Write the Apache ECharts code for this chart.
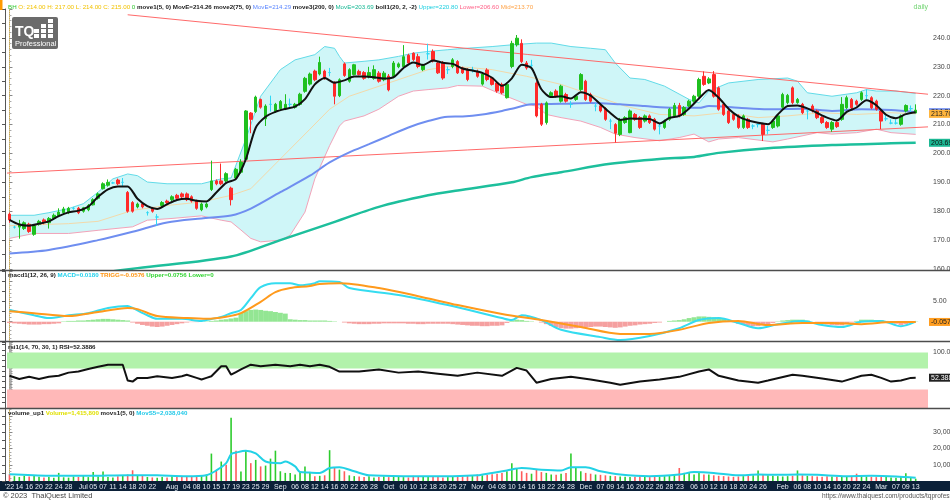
<!DOCTYPE html>
<html>
<head>
<meta charset="utf-8">
<title>BH daily</title>
<script src="https://cdn.jsdelivr.net/npm/echarts@6/dist/echarts.min.js"></script>
<style>
  html, body { margin: 0; padding: 0; background: #fff; }
  #chart { width: 950px; height: 500px; }
</style>
</head>
<body>
<div id="chart"></div>
<script>
// trading days (SET), Jun 2022 - Mar 2023
const daysJun = [10, 13, 14, 15, 16, 17, 20, 21, 22, 23, 24, 27, 28, 29, 30];
const daysJul = [1, 4, 5, 6, 7, 8, 11, 12, 14, 15, 18, 19, 20, 21, 22, 25, 26, 27];
const daysAug = [1, 2, 3, 4, 5, 8, 9, 10, 11, 15, 16, 17, 18, 19, 22, 23, 24, 25, 26, 29, 30, 31];
const daysSep = [1, 2, 5, 6, 7, 8, 9, 12, 13, 14, 15, 16, 19, 20, 21, 22, 23, 26, 27, 28, 29, 30];
const daysOct = [3, 4, 5, 6, 7, 10, 11, 12, 17, 18, 19, 20, 21, 25, 26, 27, 28, 31];
const daysNov = [1, 2, 3, 4, 7, 8, 9, 10, 11, 14, 15, 16, 17, 18, 21, 22, 23, 24, 25, 28, 29, 30];
const daysDec = [1, 2, 6, 7, 8, 9, 13, 14, 15, 16, 19, 20, 21, 22, 23, 26, 27, 28, 29];
const daysJan = [3, 4, 5, 6, 9, 10, 11, 12, 13, 16, 17, 18, 19, 20, 23, 24, 25, 26, 27, 30, 31];
const daysFeb = [1, 2, 3, 6, 7, 8, 9, 10, 13, 14, 15, 16, 17, 20, 21, 22, 23, 24, 27, 28];
const daysMar = [1, 2, 3, 7, 8, 9, 10, 13];

// date axis labels: tag on first day of month, then these days
const monthTags = ["'22", 'Jul', 'Aug', 'Sep', 'Oct', 'Nov', 'Dec', "'23", 'Feb', 'Mar'];
const ticksJun = [14, 16, 20, 22, 24, 28];
const ticksJul = [5, 7, 11, 14, 18, 20, 22];
const ticksAug = [4, 8, 10, 15, 17, 19, 23, 25, 29];
const ticksSep = [6, 8, 12, 14, 16, 20, 22, 26, 28];
const ticksOct = [6, 10, 12, 18, 20, 25, 27];
const ticksNov = [4, 8, 10, 14, 16, 18, 22, 24, 28];
const ticksDec = [7, 9, 14, 16, 20, 22, 26, 28];
const ticksJan = [6, 10, 12, 16, 18, 20, 24, 26];
const ticksFeb = [6, 8, 10, 14, 16, 20, 22, 24];
const ticksMar = [7, 9, 13];

// daily candles [open, close, low, high]
const candles = [
  [179, 177, 176, 179.5], [174.5, 174.5, 174, 175], [174.5, 175.5, 170.5, 177], [174, 176, 173.5, 176.5],
  [175.5, 173, 172.5, 176], [172, 175, 171.5, 175.5], [175.5, 176.5, 175, 177], [177, 176, 175.5, 177.5],
  [176, 177.5, 174, 178], [177.5, 178.6, 177, 179.2], [178.5, 179.7, 178, 181], [179.5, 180.8, 179, 181.5],
  [179.5, 181, 179, 181.5], [181, 181, 180.5, 181.5], [181, 179.5, 179, 181.5], [180, 181.2, 179.5, 181.5],
  [180.5, 182, 180, 182.5], [182.2, 184, 182, 184.5], [184.5, 186, 184, 186.5], [187.8, 189.5, 187.5, 190],
  [189, 190, 188.5, 191], [189.8, 189.8, 189.5, 190.2], [190.8, 189.5, 189, 191.3], [190, 190, 188.5, 191.5],
  [186.5, 180, 179.5, 187], [183, 180, 179.5, 183.5], [181.5, 182.5, 181, 183], [182.5, 181.5, 181, 183],
  [179.5, 179.5, 178.5, 180], [181, 180, 179.5, 181.5], [178, 178, 175, 179], [182, 183, 181.5, 183.5],
  [183.5, 183, 182.5, 184], [184, 185, 183.5, 185.5], [185.5, 184.5, 184, 186], [186, 185, 184.5, 186.5],
  [186, 184, 183.5, 186.5], [185, 183.5, 183, 185.5], [183.5, 181, 180.5, 184], [180.5, 182.5, 180, 183],
  [181.5, 182.5, 181, 183], [187.5, 190.5, 187, 197.5], [190.5, 189.5, 189, 191], [190.5, 189.5, 189, 196.5],
  [190.5, 193, 190, 193.5], [188, 184, 182, 188.5], [191.5, 194.5, 191, 195],
  [193.5, 197, 193, 198], [198, 214.7, 197.5, 215], [214, 211.8, 207, 214.3], [214.5, 219.5, 214, 220],
  [218.7, 216, 215.5, 219], [212, 216.4, 209.5, 217], [217, 217, 214.5, 220], [214.5, 217, 214, 217.5],
  [215.5, 218, 215, 218.5], [215.5, 217, 215, 220.5], [217, 217, 215.5, 219], [216, 217, 215.5, 217.5],
  [217, 220.5, 216.5, 221], [221.5, 226, 221, 226.5], [224, 227.5, 223.5, 228], [228.5, 225.5, 225, 229],
  [227.5, 231.5, 227, 233.5], [228.5, 226, 225.5, 229], [228, 228, 226.7, 229.6], [224.5, 219.8, 217, 225],
  [220, 225.5, 219.5, 226], [231, 227, 226.5, 231.5], [225, 229, 224.5, 229.5], [227.3, 230.7, 227, 231],
  [228.4, 227.3, 227, 229], [228, 226, 225.5, 228.5], [226.5, 228, 226, 230], [226, 229, 225.5, 230.5],
  [227.8, 225, 224.5, 228.5], [225.5, 227.8, 225, 228.5], [226.8, 222, 221.5, 227.5], [226.7, 231.3, 226, 232],
  [230, 231, 229.5, 231.5], [230, 233.5, 229.5, 237.5], [234, 231.3, 231, 234.5], [234.7, 232.5, 232, 235],
  [233.5, 230.1, 229.5, 234.5], [229, 230.7, 228.5, 231], [234.5, 234.5, 232.5, 238], [235.3, 232, 231.5, 236],
  [231.3, 227.9, 227.5, 232], [231.3, 226.1, 225.5, 232], [229, 229, 227.5, 230.1], [230.1, 232.4, 229.5, 233],
  [231.8, 227.9, 227.5, 232.3], [229.6, 227.9, 227.5, 230], [229, 225.6, 225, 229.5],
  [229, 229, 228, 230], [228.4, 226.7, 226.2, 229], [224, 227.5, 223.5, 228], [228.9, 225.6, 225, 229.5],
  [226.1, 223.9, 223.5, 226.5], [224.4, 221.6, 221, 225], [223.9, 221, 220.5, 224.5], [219.3, 223.9, 219, 224.5],
  [230.1, 238.1, 229.5, 239], [237.6, 239.9, 237, 241], [238.1, 231.8, 231.3, 239.5], [231.3, 229.6, 229, 232],
  [230.5, 230.5, 229, 232.4], [224.4, 213, 212.5, 225], [217, 210.1, 209.5, 217.5], [210.7, 217.5, 210, 218],
  [220, 221, 219.5, 221.5], [221.6, 219.8, 219.3, 222.2], [218.1, 223.3, 217.6, 223.8], [220.4, 218.1, 217.6, 221],
  [217, 217, 215.8, 218.1], [218.7, 219.8, 218.2, 220.2], [222.1, 227.3, 221.6, 227.8], [225, 218.7, 218.2, 225.5],
  [220.4, 218.1, 217.6, 221], [216.4, 216.4, 214.6, 217.5], [216.5, 214.7, 214.2, 217], [215.5, 211.8, 211.3, 216],
  [211.2, 211.2, 208.4, 212], [210, 207, 203.8, 210.5], [206.6, 211.8, 206, 212.3], [210.7, 212.4, 210.2, 212.9],
  [207.2, 214.7, 207, 215.2], [213.5, 211.8, 211.3, 214], [212.4, 209, 208.5, 212.9], [211.2, 213, 210.7, 213.5],
  [213, 210.7, 210.2, 213.5], [211.8, 208.4, 207.9, 212.3], [209.5, 209.5, 206.6, 210.7], [209, 211.2, 208.5, 211.7],
  [211.8, 215.3, 211.3, 215.8], [213, 216.6, 212.5, 217.5], [216.6, 213, 212.5, 217.5], [213.5, 215.9, 213, 216.4],
  [216.4, 218.1, 216, 218.6], [218.1, 219.8, 217.6, 220.3], [219.8, 225.6, 219.3, 226.2],
  [226.7, 223.9, 223.4, 228.4], [224.4, 225.8, 224, 226.4], [227.3, 219.8, 219.3, 228.5], [222.7, 215.3, 214.8, 223.2],
  [217, 213.5, 213, 217.5], [214.7, 210.7, 210.2, 215.2], [213.5, 211.8, 211.3, 214], [213, 209, 208.5, 213.5],
  [209, 213, 208.5, 213.5], [211.8, 209, 208.5, 212.3], [209.5, 209.5, 208.4, 210.1], [210, 210, 209, 210.5],
  [210.1, 206.6, 204.3, 210.6], [208, 208, 206.6, 209.5], [209, 211.2, 208.5, 211.7], [209.5, 213, 209, 213.5],
  [216, 220.4, 215.5, 221], [217.6, 220.1, 217, 220.6], [222.7, 217.6, 217, 223.2], [217.6, 218.7, 217.2, 219.2],
  [217, 214.1, 213.6, 217.5], [214.7, 214.7, 211.8, 215.3], [216.4, 214.7, 214.2, 217], [214.7, 212.4, 211.9, 215.2],
  [212.4, 210.7, 210.2, 212.9], [210.7, 209, 208.5, 211.2], [208.4, 210.7, 207.5, 211.2], [210.7, 209.3, 208.8, 211.2],
  [211.8, 217, 211.3, 219.5], [215.8, 219.3, 215.3, 220], [218.7, 215.8, 215.3, 219.2], [218.1, 217, 216.5, 218.6],
  [218.7, 221, 218.2, 221.5], [220, 220, 218.7, 222.2], [219.3, 215.8, 215.3, 219.8], [218.1, 215.3, 214.8, 218.6],
  [214.7, 211.2, 208.4, 215.2], [212, 212, 211.2, 213.5], [210.5, 210.5, 210.1, 211.8], [210.5, 210.5, 210, 211.8],
  [210.1, 213, 209.6, 213.5], [214.7, 216.6, 214.2, 217], [215.5, 215.5, 214.1, 216.6], [214, 215, 214, 217]
];

// volume, millions of shares
const volume = [
  4.2, 3.0, 2.5, 3.2, 2.8, 3.5, 2.6, 2.2, 2.4, 2.0,
  5.0, 2.3, 2.1, 2.8, 2.5, 3.6, 2.4, 5.6, 2.8, 5.9,
  2.5, 2.2, 3.0, 3.5, 4.0, 6.6, 3.2, 3.6, 2.5, 2.2,
  2.0, 2.5, 2.2, 3.0, 2.4, 2.6, 2.8, 2.5, 3.0, 3.5,
  4.0, 16.9, 6.7, 12.0, 10.0, 39.0, 18.7, 5.9, 18.7, 11.0,
  13.0, 9.0, 9.5, 13.8, 18.7, 6.0, 5.0, 5.0, 4.0, 5.6,
  9.0, 5.6, 3.0, 3.2, 3.5, 19.0, 8.0, 7.0, 6.0, 3.5,
  3.0, 2.8, 2.5, 3.0, 2.2, 2.5, 2.8, 2.4, 2.6, 3.0,
  2.4, 2.2, 3.2, 2.6, 2.4, 2.8, 3.0, 2.6, 2.2, 2.4,
  2.6, 3.0, 2.8, 3.4, 3.2, 4.0, 3.5, 3.8, 4.2, 4.5,
  5.0, 6.0, 11.0, 8.0, 6.0, 5.0, 4.5, 7.0, 5.5, 5.0,
  4.0, 3.8, 4.5, 5.0, 17.0, 8.0, 6.0, 5.0, 4.5, 4.0,
  3.8, 3.5, 3.2, 3.0, 2.8, 2.6, 2.4, 2.6, 2.8, 2.5,
  2.4, 2.6, 2.8, 3.0, 3.5, 4.0, 8.0, 5.0, 5.0, 4.0,
  5.0, 4.0, 4.0, 3.5, 3.2, 3.0, 2.8, 2.6, 2.8, 3.0,
  3.2, 3.5, 6.5, 3.8, 3.5, 3.2, 3.0, 2.8, 3.0, 3.2,
  6.5, 3.5, 3.2, 3.0, 2.8, 2.6, 3.0, 2.8, 2.6, 2.4,
  2.5, 2.8, 4.5, 3.0, 2.8, 2.6, 2.4, 2.5, 2.6, 2.2,
  2.0, 2.4, 4.8, 2.2, 1.4158
];
// bars where the volume colour is up although the candle is not (and the reverse)
const volUpBars = [43, 45, 65];
const volDownBars = [44, 46];

// MovE 5, read every second bar
const ma5 = [
  177.0, 175.4, 175.0, 175.7, 176.5, 178.3, 179.6, 180.2, 181.6, 185.0,
  187.6, 188.6, 188.6, 184.3, 181.8, 180.8, 182.4, 183.9, 184.3, 183.6,
  183.4, 186.5, 189.8, 191.2, 198.0, 208.9, 212.7, 214.4, 215.4, 216.2,
  218.8, 223.9, 226.1, 224.5, 225.3, 226.6, 226.6, 226.4, 225.9, 226.4,
  229.6, 231.5, 230.6, 232.2, 231.4, 231.0, 229.4, 228.7, 227.9, 226.2,
  223.4, 226.0, 230.7, 229.5, 222.2, 219.5, 219.8, 219.0, 221.2, 220.0,
  217.0, 214.0, 211.6, 212.1, 212.0, 211.9, 210.4, 212.3, 213.0, 215.6,
  219.0, 222.0, 219.3, 215.5, 212.8, 211.4, 210.6, 210.1, 213.5, 216.4,
  216.6, 215.6, 214.0, 212.4, 211.4, 214.4, 215.9, 218.4, 216.7, 213.4,
  212.2, 213.6, 214.26
];

// [bar, value] readings of the slower lines
const ma75 = [[0, 165.4], [8, 166.6], [18, 170], [25, 172.9], [32, 176.1], [39, 177.5], [45, 178.5], [49, 180.9],
  [55, 186.6], [61, 192.3], [65, 196.9], [69, 200.4], [73, 203.2], [77, 206.1], [81, 209], [85, 211.2], [89, 212.7],
  [92, 212.8], [96, 213.5], [100, 214.7], [102, 215.5], [106, 217], [112, 217.2], [118, 217.5], [124, 217],
  [129, 216.4], [135, 215.8], [140, 215.8], [142, 216.4], [148, 215.8], [154, 215.3], [161, 215.5], [167, 214.7],
  [173, 215.3], [179, 215], [184, 214.29]];
const ma200 = [[18, 158.5], [26, 160.3], [45, 164.3], [55, 170], [65, 175.7], [75, 181.5], [85, 185.5], [91, 187.2],
  [102, 190], [106, 191.8], [112, 193.5], [122, 196.4], [132, 198.1], [139, 198.8], [144, 200.2], [154, 201.8],
  [167, 202.9], [179, 203.5], [184, 203.69]];
const bollUpper = [[0, 178.6], [5, 178.6], [8, 179.5], [12, 180.9], [15, 182.6], [18, 186.6], [21, 191.2], [24, 192.9],
  [26, 192.3], [28, 190.1], [32, 189.5], [39, 189.5], [43, 191.2], [45, 191.5], [48, 205], [51, 219.8], [55, 229],
  [58, 232.4], [62, 234.2], [64, 237], [66, 236.4], [67, 233.6], [68, 231.3], [72, 231.9], [75, 232.4], [79, 233.6],
  [82, 234.7], [85, 235.3], [89, 235.9], [91, 236.2], [98, 237], [102, 237.6], [107, 238.2], [110, 238.2], [114, 237],
  [118, 236.4], [121, 235.9], [123, 231.3], [126, 226.1], [129, 225.6], [133, 223.3], [138, 218.7], [140, 217.5],
  [142, 221.6], [146, 224.4], [152, 225.6], [158, 226.1], [160, 225], [162, 221], [167, 219.8], [172, 221],
  [174, 222.1], [176, 221.6], [180, 221.6], [184, 220.8]];
const bollLower = [[0, 170.6], [5, 172.3], [12, 172.3], [18, 173.4], [25, 174.6], [28, 176.9], [33, 177.5], [39, 178.4],
  [43, 176.9], [45, 176.3], [47, 173.5], [49, 170.6], [51, 169.4], [55, 170], [57, 171.7], [60, 179.7], [62, 191.2],
  [65, 202.7], [67, 209.5], [68, 211.2], [72, 213], [75, 215.3], [79, 219.8], [82, 221.6], [85, 222.1], [89, 222.7],
  [91, 223.5], [96, 223.3], [100, 220.4], [105, 217], [107, 216.4], [109, 213.5], [112, 212.4], [116, 211.2],
  [120, 209], [123, 206.7], [127, 205.5], [132, 204.4], [136, 205.5], [139, 206.7], [142, 204], [144, 205],
  [148, 205.5], [155, 204], [158, 205], [164, 207.2], [167, 206.7], [172, 207.2], [176, 208.4], [179, 207.2],
  [184, 206.6]];
const bollMid = [[0, 175], [12, 175.7], [18, 176.5], [25, 180.3], [32, 182], [39, 183.2], [45, 185.5], [49, 187.8],
  [55, 198.1], [61, 208.4], [65, 215.3], [69, 219.8], [73, 222.1], [77, 224.4], [81, 226.7], [85, 229], [89, 230.1],
  [93, 229.8], [98, 229], [105, 226.7], [112, 223.9], [118, 220.4], [125, 216.4], [132, 213.5], [139, 213],
  [145, 214.1], [152, 212.4], [158, 213], [165, 214.1], [172, 213.5], [179, 214.1], [184, 213.7]];
const trendDown = [[24, 248], [186.5, 220.5]];
const trendUp = [[-0.5, 193.2], [186.5, 209.2]];

// MACD(12, 26, 9)
const macdLine = [[0, 2.9], [5, 1.6], [8, 0.9], [12, 1.6], [16, 2.1], [20, 3.4], [24, 3.9], [25, 3.4], [28, 1.6],
  [30, 0.7], [35, 0.7], [39, 0.2], [40, 0.4], [43, 1.2], [45, 2.1], [47, 2.9], [49, 5.8], [51, 8.5], [54, 9.5],
  [57, 9.5], [59, 9.0], [62, 9.5], [63, 10.0], [67, 9.8], [69, 8.3], [79, 6.6], [89, 4.1], [100, 0.9], [102, 0.4],
  [104, 1.6], [108, 0.4], [112, -2.0], [120, -3.8], [124, -4.5], [130, -3.5], [136, -1.6], [140, 0.4], [144, 0.9],
  [148, -0.3], [152, -1.6], [156, -0.6], [161, 0.2], [165, -0.8], [169, -1.3], [173, 0], [177, 0.2], [181, -1.1],
  [184, 0.018]];
const macdTrigger = [[0, 2.6], [5, 2.1], [12, 1.4], [18, 2.4], [24, 3.4], [26, 3.1], [30, 1.4], [36, 0.9], [40, 0.7],
  [44, 1.2], [47, 2.1], [51, 4.9], [54, 7.3], [57, 8.3], [61, 8.8], [63, 9.3], [67, 9.5], [75, 8.3], [83, 6.3],
  [91, 4.1], [100, 1.9], [108, 0.4], [116, -1.3], [124, -3.0], [130, -3.0], [136, -2.0], [142, -0.3], [148, 0.2],
  [154, -0.8], [161, -0.3], [167, -0.3], [173, -0.6], [179, -0.1], [184, -0.0576]];
const macdHist = [
  -0.3, -0.4, -0.5, -0.6, -0.7, -0.7, -0.7, -0.6, -0.6, -0.5, -0.4,
  0.1, 0.2, 0.2, 0.3, 0.3, 0.4, 0.5, 0.6, 0.7, 0.7, 0.6, 0.5, 0.4, 0.3,
  -0.2, -0.5, -0.8, -1.0, -1.2, -1.3, -1.2, -1.0, -0.8, -0.6, -0.4, -0.2,
  -0.1, -0.1, 0.0, 0.1, 0.2, 0.3,
  0.5, 0.6, 0.8, 1.0, 2.2, 2.6, 2.9, 3.0, 2.9, 2.7, 2.6, 2.4, 2.2, 2.0, 0.6, 0.5, 0.4, 0.4, 0.3, 0.3, 0.3,
  0.3, 0.2, 0.1, 0.0, -0.2,
  -0.4, -0.5, -0.6, -0.6, -0.6, -0.5, -0.5, -0.4, -0.4, -0.4, -0.4,
  -0.4, -0.5, -0.5, -0.6, -0.6, -0.5, -0.5, -0.5, -0.5, -0.5,
  -0.6, -0.7, -0.8, -0.9, -1.0, -1.0, -1.1, -1.1, -1.0, -1.0, -0.9,
  -0.3, 0.3, 0.5, 0.4, 0.2, 0.1, 0.0, -0.2,
  -0.6, -1.0, -1.3, -1.6, -1.7, -1.7, -1.6, -1.5, -1.4, -1.3, -1.2, -1.2, -1.3, -1.4, -1.5, -1.4,
  -1.2, -1.0, -0.9, -0.7, -0.6, -0.5, -0.3, -0.2, 0.0, 0.2, 0.3,
  0.4, 0.6, 0.9, 1.1, 1.3, 1.3, 1.2, 1.1, 1.0, 0.7, 0.3,
  -0.1, -0.5, -0.8, -1.0, -1.1, -1.1, -0.9, -0.6, -0.3, 0.1,
  0.3, 0.4, 0.5, 0.5, 0.5, 0.3, 0.0, -0.3,
  -0.5, -0.7, -0.8, -0.9, -0.9, -0.6, -0.2, 0.2,
  0.5, 0.5, 0.5, 0.4, 0.4, 0.2, -0.2, -0.5,
  -0.8, -0.6, -0.3, 0.08
];

// RSI(14)
const rsi = [[0, 56], [2, 50], [4, 54], [6, 50], [8, 54], [10, 56], [12, 62], [14, 64], [16, 69], [18, 73], [20, 77],
  [22, 77], [23, 77], [24, 47], [25, 45], [26, 52], [28, 52], [30, 55], [33, 52], [35, 55], [36, 58], [38, 52],
  [39, 49], [40, 52], [41, 55], [43, 74], [44, 74], [45, 58], [46, 63], [47, 68], [49, 77], [51, 74], [54, 77],
  [57, 74], [59, 77], [61, 74], [63, 77], [65, 73], [67, 64], [71, 64], [75, 68], [79, 62], [83, 64], [87, 60],
  [91, 56], [95, 62], [100, 56], [103, 71], [105, 66], [107, 43], [110, 50], [114, 54], [118, 49], [122, 43],
  [124, 39], [128, 45], [132, 49], [136, 54], [140, 64], [142, 68], [144, 56], [148, 47], [152, 43], [154, 47],
  [159, 58], [161, 56], [165, 51], [169, 45], [173, 56], [175, 58], [177, 52], [179, 45], [181, 47], [183, 52],
  [184, 52.3886]];

// MovS 5 of volume
const volMa5 = [[0, 4.2], [8, 3.3], [16, 3.2], [24, 3.6], [30, 3.5], [36, 3.0], [40, 3.6], [42, 6.5], [44, 11],
  [45, 16.5], [46, 17.5], [48, 18.7], [50, 17], [52, 12], [55, 11], [56, 12], [58, 9], [59, 5.5], [61, 5.2],
  [63, 5.0], [65, 8.0], [67, 8.5], [70, 6.0], [73, 3.5], [80, 3.0], [90, 3.0], [95, 3.5], [98, 5.0], [101, 6.5],
  [104, 8.0], [108, 7.0], [112, 6.5], [114, 8.5], [117, 8.5], [120, 6.0], [124, 4.0], [130, 3.0], [136, 4.0],
  [139, 5.5], [143, 5.0], [148, 3.5], [152, 4.0], [156, 3.8], [160, 4.0], [164, 3.8], [170, 3.0], [175, 3.2],
  [180, 2.8], [184, 2.03804]];

// last values shown in the right-hand price column
const lastMid = 213.70, lastMa75 = 214.29, lastMa200 = 203.69, lastTrigger = -0.0576, lastRsi = 52.3886;

// ---- build categories ----
const monthDays = [daysJun, daysJul, daysAug, daysSep, daysOct, daysNov, daysDec, daysJan, daysFeb, daysMar];
const monthTicks = [ticksJun, ticksJul, ticksAug, ticksSep, ticksOct, ticksNov, ticksDec, ticksJan, ticksFeb, ticksMar];
const dates = [];
const dateLabels = [];
monthDays.forEach(function (days, m) {
  const year = m < 7 ? 2022 : 2023;
  const mm = (m + 5) % 12 + 1;
  days.forEach(function (d, i) {
    dates.push(year + '-' + String(mm).padStart(2, '0') + '-' + String(d).padStart(2, '0'));
    dateLabels.push(i === 0 ? monthTags[m] : (monthTicks[m].indexOf(d) >= 0 ? String(d).padStart(2, '0') : ''));
  });
});
dates.push('pad1', 'pad2');

const FONT = 'Liberation Sans';
const UP = '#1fc01f', DOWN = '#ff2a2a', DOJI = '#2fd8f5';

const grids = [
  { left: 7, right: 22, top: 9, height: 260, outerBoundsMode: 'none' },
  { left: 7, right: 22, top: 271, height: 71, outerBoundsMode: 'none' },
  { left: 7, right: 22, top: 342, height: 66, outerBoundsMode: 'none' },
  { left: 7, right: 22, top: 408, height: 73, outerBoundsMode: 'none' }
];

const xAxes = [];
for (let g = 0; g < 4; g++) {
  xAxes.push({
    type: 'category', gridIndex: g, data: dates, boundaryGap: true, z: 10,
    axisLine: { show: false }, axisTick: { show: false }, splitLine: { show: false },
    axisLabel: {
      show: g === 3, interval: 0, color: '#e3eaf2', fontSize: 7, fontFamily: FONT, margin: 3,
      formatter: function (v, i) { return dateLabels[i] || ''; }
    }
  });
  xAxes.push({ type: 'value', gridIndex: g, min: -0.5, max: 186.5, show: false });
}

function rightAxis(g, min, max, interval, fmt) {
  return {
    type: 'value', gridIndex: g, position: 'right', min: min, max: max, interval: interval,
    axisLine: { show: true, lineStyle: { color: '#c9a955', type: 'dotted' } },
    axisTick: { show: true, length: 3, lineStyle: { color: '#888' } },
    minorTick: { show: true, splitNumber: 5, length: 2, lineStyle: { color: '#aaa' } },
    splitLine: { show: false },
    axisLabel: { color: '#444', fontSize: 7, fontFamily: FONT, margin: 5, formatter: fmt }
  };
}
function leftRuler(g, min, max, interval) {
  return {
    type: 'value', gridIndex: g, position: 'left', offset: 2, min: min, max: max, interval: interval,
    axisLine: { show: true, lineStyle: { color: '#555' } },
    axisTick: { show: true, length: 3, lineStyle: { color: '#555' } },
    axisLabel: { show: false }, splitLine: { show: false }
  };
}

const yAxes = [
  rightAxis(0, 160, 250, 10, function (v) { return v < 245 ? v.toFixed(2) : ''; }),
  leftRuler(0, 160, 250, 5),
  rightAxis(1, -5, 12.5, 5, function (v) { return v === 5 ? '5.00' : ''; }),
  leftRuler(1, -5, 12.5, 2.5),
  rightAxis(2, -5, 120, 5, function (v) { return v === 100 ? '100.00' : ''; }),
  leftRuler(2, -5, 120, 10),
  rightAxis(3, 0, 45, 10, function (v) { return (v >= 10 && v <= 30) ? (v * 1e6).toLocaleString('en-US') : ''; }),
  leftRuler(3, 0, 45, 5)
];

function line(grid, data, color, width, extra) {
  return Object.assign({
    type: 'line', xAxisIndex: grid * 2 + 1, yAxisIndex: grid * 2, data: data,
    symbol: 'none', silent: true, lineStyle: { color: color, width: width }, itemStyle: { color: color }
  }, extra || {});
}

function volIsUp(i) {
  if (volUpBars.indexOf(i) >= 0) return true;
  if (volDownBars.indexOf(i) >= 0) return false;
  return candles[i][1] >= candles[i][0];
}

const series = [
  {
    type: 'custom', xAxisIndex: 1, yAxisIndex: 0, z: 1, silent: true, data: [[0, 200]],
    renderItem: function (params, api) {
      const pts = bollUpper.map(function (p) { return api.coord(p); })
        .concat(bollLower.slice().reverse().map(function (p) { return api.coord(p); }));
      return { type: 'polygon', shape: { points: pts }, style: { fill: '#cff6f8' } };
    }
  },
  line(0, bollUpper, '#62dbe8', 1, { z: 2 }),
  line(0, bollLower, '#f2a3b9', 1, { z: 2 }),
  line(0, bollMid, '#f3d9aa', 1, { z: 2 }),
  line(0, trendDown, '#ff6a6a', 1, { z: 2 }),
  line(0, trendUp, '#ff6a6a', 1, { z: 2 }),
  line(0, ma200, '#1dbf9c', 2.5, { z: 2, smooth: 0.3 }),
  line(0, ma75, '#6f8ef0', 2, { z: 2, smooth: 0.3 }),
  {
    type: 'candlestick', xAxisIndex: 0, yAxisIndex: 0, data: candles, barWidth: 3, z: 3, silent: true,
    itemStyle: { color: UP, color0: DOWN, borderColor: UP, borderColor0: DOWN, borderColorDoji: DOJI, borderWidth: 1 }
  },
  line(0, ma5.map(function (v, i) { return [i * 2, v]; }), '#111', 2, { z: 4, smooth: 0.25 }),
  {
    type: 'bar', xAxisIndex: 2, yAxisIndex: 2, barCategoryGap: '0%', silent: true,
    data: macdHist.map(function (v) { return { value: v, itemStyle: { color: v >= 0 ? '#93e693' : '#f5a0a0' } }; })
  },
  line(1, macdLine, '#35dcf0', 2, { z: 3, smooth: 0.3 }),
  line(1, macdTrigger, '#ff9a1c', 2, { z: 4, smooth: 0.3 }),
  line(2, rsi, '#111', 2, {
    z: 3,
    markArea: {
      silent: true,
      data: [
        [{ yAxis: 70, itemStyle: { color: '#b2f2ab' } }, { yAxis: 100 }],
        [{ yAxis: -5, itemStyle: { color: '#ffb8b8' } }, { yAxis: 30 }]
      ]
    }
  }),
  {
    type: 'bar', xAxisIndex: 6, yAxisIndex: 6, barWidth: 1.6, silent: true,
    data: volume.map(function (v, i) {
      return { value: v, itemStyle: { color: volIsUp(i) ? '#2dcc2d' : '#ff5b5b' } };
    })
  },
  line(3, volMa5, '#22d2e6', 2, { z: 3, smooth: 0.3 })
];

function tok(color, bold) {
  return { fill: color, fontSize: 6.2, fontFamily: FONT, fontWeight: bold ? 'bold' : 'normal' };
}
const rich = {
  k: tok('#1a1a1a', true), g: tok('#2fc62f'), y: tok('#f2c200'), b: tok('#5b86ff'), t: tok('#16b894'),
  c: tok('#1fcfe0'), p: tok('#ff5f86'), o: tok('#ffa347'), lg: tok('#33d433', true), yy: tok('#e0e000', true),
  cy: tok('#1ec8e8', true), or: tok('#ff9410', true), cm: tok('#1fd0ec', true)
};
function legend(x, y, text) {
  return { type: 'text', x: x, y: y, z: 100, silent: true,
    style: { text: text, rich: rich, fontSize: 6.2, fontFamily: FONT, fill: '#111', verticalAlign: 'top' } };
}

const logoBars = [];
[[0, 2], [1, 3], [2, 4]].forEach(function (col) {
  for (let j = 0; j < col[1]; j++) {
    logoBars.push({ type: 'rect', shape: { x: 22 + col[0] * 7, y: 17 - j * 5, width: 5, height: 4 }, style: { fill: '#fff' } });
  }
});

const graphics = [
  { type: 'rect', z: 0, silent: true, shape: { x: 0, y: 481, width: 950, height: 10 }, style: { fill: '#0b2038' } },
  { type: 'line', z: 50, silent: true, shape: { x1: 0, y1: 270.5, x2: 950, y2: 270.5 }, style: { stroke: '#4d4d4d', lineWidth: 1.5 } },
  { type: 'line', z: 50, silent: true, shape: { x1: 0, y1: 341.5, x2: 950, y2: 341.5 }, style: { stroke: '#4d4d4d', lineWidth: 1.5 } },
  { type: 'line', z: 50, silent: true, shape: { x1: 0, y1: 408.5, x2: 950, y2: 408.5 }, style: { stroke: '#4d4d4d', lineWidth: 1.5 } },
  { type: 'rect', z: 100, silent: true, shape: { x: 0, y: 0, width: 2.5, height: 10 }, style: { fill: '#ff9a00' } },
  legend(8, 4, '{g|BH} {y|O: 214.00 H: 217.00 L: 214.00 C: 215.00} {g|0} {k|move1(5, 0) MovE=214.26 move2(75, 0)} {b|MovE=214.29} {k|move3(200, 0)} {t|MovE=203.69} {k|boll1(20, 2, -2)} {c|Upper=220.80} {p|Lower=206.60} {o|Mid=213.70}'),
  legend(8, 272, '{k|macd1(12, 26, 9)} {cm|MACD=0.0180} {or|TRIGG=-0.0576} {lg|Upper=0.0756 Lower=0}'),
  legend(8, 344, '{k|rsi1(14, 70, 30, 1) RSI=52.3886}'),
  legend(8, 410, '{k|volume_up1} {yy|Volume=1,415,800} {k|movs1(5, 0)} {cy|MovS5=2,038,040}'),
  {
    type: 'group', x: 12, y: 17, z: 100, silent: true,
    children: [
      { type: 'rect', shape: { x: 0, y: 0, width: 46, height: 32, r: 2 }, style: { fill: '#6b6b6b' } },
      { type: 'text', x: 3, y: 8, style: { text: 'TQ', fill: '#fff', font: 'bold 14px ' + FONT, verticalAlign: 'top' } }
    ].concat(logoBars, [
      { type: 'text', x: 3, y: 23, style: { text: 'Professional', fill: '#fff', font: '7.5px ' + FONT, verticalAlign: 'top' } }
    ])
  },
  { type: 'text', x: 928, y: 4, z: 100, silent: true, style: { text: 'daily', fill: '#6fd46f', fontSize: 7, fontFamily: FONT, align: 'right', verticalAlign: 'top' } },
  { type: 'text', x: 3, y: 492, z: 100, silent: true, style: { text: '\u00a9 2023  ThaiQuest Limited', fill: '#444', fontSize: 7.5, fontFamily: FONT, verticalAlign: 'top' } },
  { type: 'text', x: 822, y: 493, z: 100, silent: true, style: { text: 'https://www.thaiquest.com/products/tqprofessional', fill: '#555', fontSize: 6.5, fontFamily: FONT, verticalAlign: 'top' } }
];

const chart = echarts.init(document.getElementById('chart'), null, { renderer: 'canvas' });
chart.setOption({
  backgroundColor: '#fff',
  animation: false,
  grid: grids,
  xAxis: xAxes,
  yAxis: yAxes,
  series: series,
  graphic: graphics
});

// last-value tags in the right column, placed through the axis scales
function valueTag(axisIndex, value, text, bg, fg) {
  const y = chart.convertToPixel({ yAxisIndex: axisIndex }, value);
  return { type: 'text', x: 929, y: y, z: 120, silent: true,
    style: { text: text, fill: fg, backgroundColor: bg, padding: [1, 2, 0, 2], fontSize: 7, fontFamily: FONT, verticalAlign: 'middle' } };
}
chart.setOption({
  graphic: graphics.concat([
    valueTag(0, lastMa75, lastMa75.toFixed(2), '#6d8df2', '#111'),
    valueTag(0, lastMid, lastMid.toFixed(2), '#ffb53d', '#222'),
    valueTag(0, lastMa200, lastMa200.toFixed(2), '#1db894', '#111'),
    valueTag(2, lastTrigger, lastTrigger.toFixed(4), '#ff9d1f', '#222'),
    valueTag(4, lastRsi, lastRsi.toFixed(4), '#222', '#fff')
  ])
});
</script>
</body>
</html>
